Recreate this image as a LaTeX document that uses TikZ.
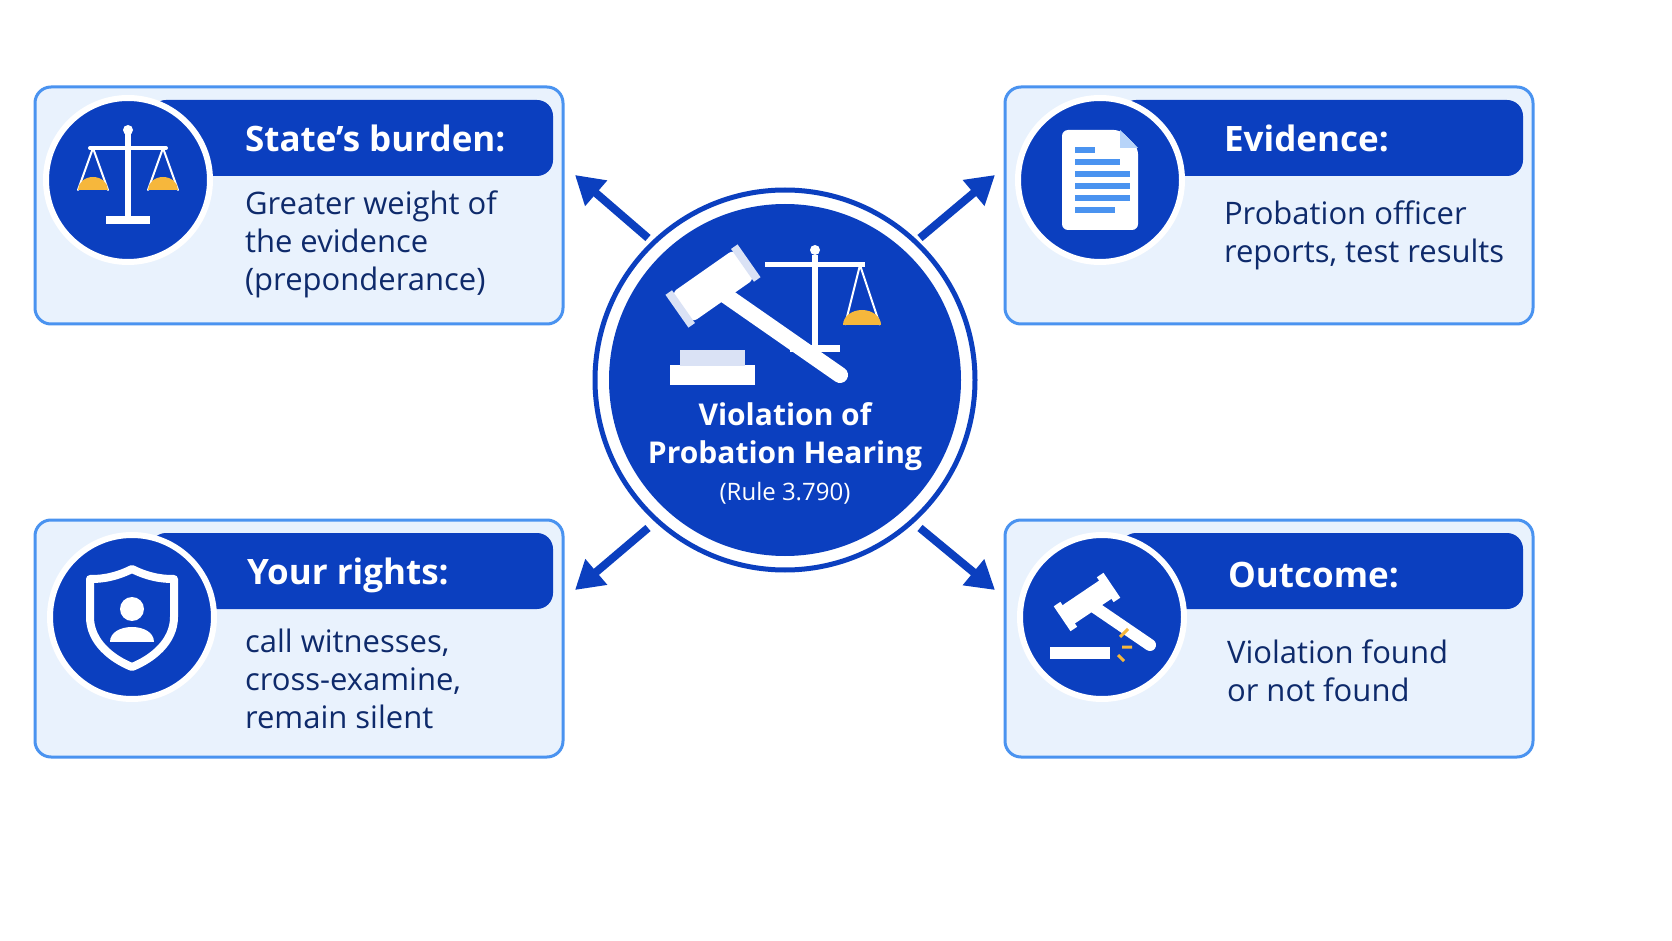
\documentclass[tikz,border=0pt]{standalone}
\usepackage{fontspec}
\setmainfont{Open Sans}
\usetikzlibrary{arrows.meta}
\definecolor{dblue}{HTML}{0B3FBF}
\definecolor{lblue}{HTML}{E9F2FD}
\definecolor{eblue}{HTML}{4A93F0}
\definecolor{navy}{HTML}{0E2A6B}
\definecolor{gold}{HTML}{F6B73C}
\begin{document}
\begin{tikzpicture}[x=0.5pt,y=-0.5pt,
  card/.style={draw=eblue,line width=1.5pt,fill=lblue,rounded corners=8pt},
  band/.style={fill=dblue,rounded corners=8pt},
  disc/.style={circle,fill=dblue,draw=white,line width=3pt,minimum size=82pt,inner sep=0pt},
  ttl/.style={anchor=west,text=white,font=\bfseries\fontsize{17.5}{19}\selectfont},
  body/.style={anchor=north west,text=navy,align=left,font=\fontsize{15.5}{19}\selectfont},
  arr/.style={draw=dblue,line width=4pt,-{Triangle[length=14pt,width=16pt]}},
  ic/.style={white,line width=2pt,line cap=round}]
\useasboundingbox (0,0) rectangle (1672,941);
\fill[white] (0,0) rectangle (1672,941);
% cards
\foreach \x/\y in {35/87,1005/87,35/520,1005/520}{
  \draw[card] (\x,\y) rectangle ++(528,237);
  \fill[band] (\x+115,\y+13) rectangle ++(403,76);
}
% discs
\node[disc] (d1) at (128,180) {};
\node[disc] (d2) at (1100,180) {};
\node[disc] (d3) at (132,617) {};
\node[disc] (d4) at (1102,617) {};
% titles
\node[ttl] (t1) at (238,138) {State’s burden:};
\node[ttl] (t2) at (1217,138) {Evidence:};
\node[ttl] (t3) at (240,575) {Your rights:};
\node[ttl] (t4) at (1221,575) {Outcome:};
\node[body] (b1) at (238,184) {Greater weight of\\the evidence\\(preponderance)};
\node[body] (b2) at (1217,194) {Probation officer\\reports, test results};
\node[body] (b3) at (238,622) {call witnesses,\\cross-examine,\\remain silent};
\node[body] (b4) at (1220,633) {Violation found\\or not found};
% center
\node[circle,draw=dblue,line width=2.5pt,fill=white,minimum size=190pt,inner sep=0pt] (c) at (785,380) {};
\node[circle,fill=dblue,minimum size=176pt,inner sep=0pt] (ci) at (785,380) {};
\node[text=white,align=center,font=\bfseries\fontsize{15}{19}\selectfont] (ct) at (785,437) {Violation of\\Probation Hearing};
\node[text=white,font=\fontsize{12}{14}\selectfont] (cr) at (785,493) {(Rule 3.790)};
% arrows
\coordinate (a1) at (575,175); \coordinate (a2) at (995,175);
\coordinate (a3) at (575,590); \coordinate (a4) at (995,590);
\draw[arr] (648,238) -- (a1);
\draw[arr] (920,238) -- (a2);
\draw[arr] (648,528) -- (a3);
\draw[arr] (920,528) -- (a4);
% icon: scales (top-left)
\begin{scope}[shift={(128,178)}]
 \draw[ic,line width=3pt] (0,-45) -- (0,38);
 \fill[white] (-22,38) rectangle (22,46);
 \draw[ic] (-38,-30) -- (38,-30);
 \fill[white] (0,-48) circle (5);
 \draw[ic,line width=1pt] (-35,-30) -- (-50,12) (-35,-30) -- (-20,12) (35,-30) -- (20,12) (35,-30) -- (50,12);
 \fill[gold] (-50,12) arc (180:360:15 and 13) -- cycle;
 \fill[gold] (20,12) arc (180:360:15 and 13) -- cycle;
\end{scope}
% icon: document
\begin{scope}[shift={(1100,180)}]
 \fill[white,rounded corners=3pt] (-38,-50) -- (20,-50) -- (38,-32) -- (38,50) -- (-38,50) -- cycle;
 \fill[eblue!40] (20,-50) -- (20,-32) -- (38,-32) -- cycle;
 \foreach \yy/\w in {-30/20,-18/45,-6/55,6/55,18/55,30/40}
   \draw[eblue,line width=3pt] (-25,\yy) -- ++(\w,0);
\end{scope}
% icon: shield
\begin{scope}[shift={(132,617)}]
 \draw[white,line width=4pt,line join=round] (0,-48) .. controls (20,-38) and (35,-38) .. (42,-38) -- (42,0) .. controls (42,25) and (20,42) .. (0,50) .. controls (-20,42) and (-42,25) .. (-42,0) -- (-42,-38) .. controls (-35,-38) and (-20,-38) .. (0,-48) -- cycle;
 \fill[white] (0,-8) circle (12);
 \fill[white] (-22,25) .. controls (-22,5) and (22,5) .. (22,25) -- cycle;
\end{scope}
% icon: gavel
\begin{scope}[shift={(1102,617)}]
 \draw[white,line width=6pt,line cap=round] (-15,-15) -- (48,28);
 \begin{scope}[shift={(-15,-15)},rotate=34]
   \fill[white,rounded corners=2pt] (-26,-11) rectangle (26,11);
   \fill[white] (-30,-15) rectangle (-22,15);
   \fill[white] (22,-15) rectangle (30,15);
 \end{scope}
 \fill[white] (-52,30) rectangle (8,42);
 \draw[gold,line width=1.5pt] (18,20) -- (26,12) (20,30) -- (30,30) (16,38) -- (22,44);
\end{scope}
% icon: center gavel and scales
\begin{scope}[shift={(785,300)}]
 \draw[white,line width=3pt] (30,-45) -- (30,45);
 \fill[white] (30,-50) circle (5);
 \draw[white,line width=2.5pt] (-20,-35) -- (80,-35);
 \draw[white,line width=1pt] (75,-35) -- (60,25) (75,-35) -- (95,25);
 \fill[gold] (58,25) arc (180:360:19 and 15) -- cycle;
 \fill[white] (5,45) rectangle (55,52);
 \fill[white] (-115,65) rectangle (-30,85);
 \fill[white!85!dblue] (-105,50) rectangle (-40,66);
 \draw[white,line width=8pt,line cap=round] (-70,-12) -- (55,75);
 \begin{scope}[shift={(-72,-14)},rotate=35]
   \fill[white,rounded corners=3pt] (-38,-18) rectangle (38,18);
   \fill[white!85!dblue] (-44,-20) rectangle (-36,20);
   \fill[white!85!dblue] (36,-20) rectangle (44,20);
 \end{scope}
\end{scope}
\end{tikzpicture}
\end{document}
